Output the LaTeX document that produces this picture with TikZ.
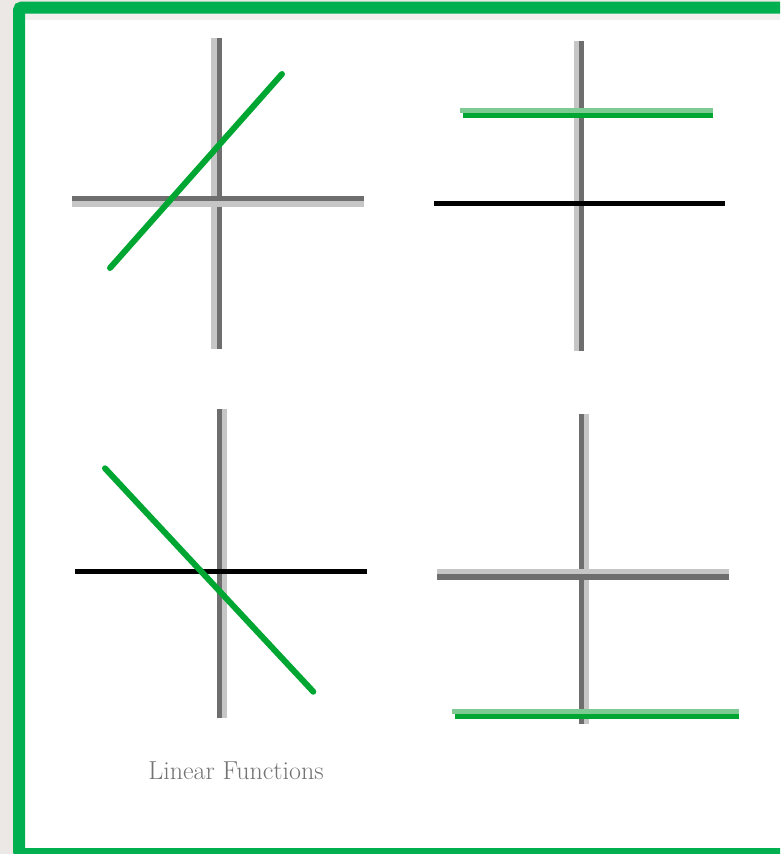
\documentclass[tikz,border=0pt]{standalone}
\begin{document}
\begin{tikzpicture}[x=1pt,y=-1pt,
  darkax/.style={draw=axdark,line width=5.6pt},
  lightax/.style={draw=axlight,line width=5.6pt},
  gline/.style={draw=gdark,line width=6pt},
  glight/.style={draw=glite,line width=5pt},
  gdarkh/.style={draw=gdark,line width=5pt},
  blackax/.style={draw=black,line width=5pt}]
\definecolor{axdark}{HTML}{6E6E6E}
\definecolor{axlight}{HTML}{C6C6C6}
\definecolor{gdark}{HTML}{00A632}
\definecolor{glite}{HTML}{7DCA93}
\definecolor{frame}{HTML}{00B050}
\definecolor{outside}{HTML}{ECE8E5}
\definecolor{strip}{HTML}{F3F1F0}
\useasboundingbox (0,0) rectangle (780,854);
\clip (0,0) rectangle (780,854);
% background
\fill[outside] (0,0) rectangle (780,854);
\fill[white] (19,7.5) rectangle (790,854);
\fill[strip] (25,13) rectangle (790,20);
\draw[frame,line width=12pt,rounded corners=3pt] (19,7.5) rectangle (790,854);
% ---- panel 1 ----
\draw[lightax] (213.9,38) -- (213.9,349);
\draw[darkax] (219.5,38) -- (219.5,349);
\draw[darkax] (72,198.4) -- (364,198.4);
\draw[lightax] (72,203.9) -- (364,203.9);
\draw[gline,line cap=round] (110,268) -- (282,74);
% ---- panel 2 ----
\draw[lightax] (576.5,41) -- (576.5,351);
\draw[darkax] (581.5,41) -- (581.5,351);
\draw[glight] (460,110.2) -- (713,110.2);
\draw[gdarkh] (463,115.2) -- (713,115.2);
\draw[blackax] (434,203.8) -- (725,203.8);
% ---- panel 3 ----
\draw[darkax] (219.7,409) -- (219.7,718);
\draw[lightax] (224.6,409) -- (224.6,718);
\draw[blackax] (75,571.5) -- (367,571.5);
\draw[gline,line cap=round] (105,468.3) -- (313.3,691.7);
% ---- panel 4 ----
\draw[darkax] (581.5,414) -- (581.5,724);
\draw[lightax] (586.5,414) -- (586.5,724);
\draw[lightax] (437,571.5) -- (729,571.5);
\draw[darkax] (437,577) -- (729,577);
\draw[glight] (452,711.5) -- (739,711.5);
\draw[gdarkh] (455,716.5) -- (739,716.5);
% caption
\node[text=black!55,font=\fontsize{26}{30}\selectfont] (cap) at (236,771) {Linear Functions};
\end{tikzpicture}
\end{document}
